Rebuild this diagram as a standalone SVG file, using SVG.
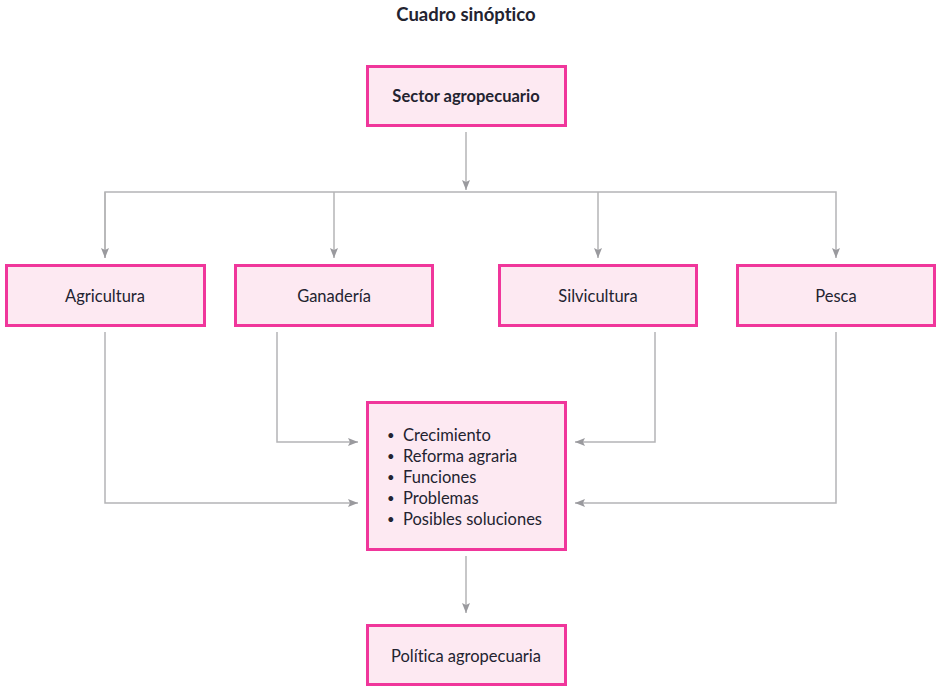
<svg xmlns="http://www.w3.org/2000/svg" width="941" height="695" viewBox="0 0 941 695">
<style>
.box{fill:#fde9f2;stroke:#f0369b;stroke-width:3}
.t{font-family:Lato,"Liberation Sans",sans-serif;font-size:16.5px;fill:#232330;text-anchor:middle;font-variant-ligatures:none}
.l{font-family:Lato,"Liberation Sans",sans-serif;font-size:16.5px;fill:#232330;font-variant-ligatures:none}
.b{font-size:13px}
.c{fill:none;stroke:#b4b4b6;stroke-width:1.5}
</style>
<defs>
<marker id="ah" markerWidth="10" markerHeight="8" refX="10" refY="4" orient="auto" markerUnits="userSpaceOnUse">
<path d="M0,0 L10,4 L0,8 L2,4 Z" fill="#9a9a9e"/>
</marker>
</defs>
<text x="466" y="21" class="t" style="font-weight:bold;font-size:18.5px">Cuadro sinóptico</text>
<g id="connectors">
<line class="c" x1="466" y1="132" x2="466" y2="190" marker-end="url(#ah)"/>
<polyline class="c" points="105,258 105,192 836,192 836,258" marker-end="url(#ah)"/>
<line class="c" x1="105" y1="192" x2="105" y2="258" marker-end="url(#ah)"/>
<line class="c" x1="334" y1="192" x2="334" y2="258" marker-end="url(#ah)"/>
<line class="c" x1="598" y1="192" x2="598" y2="258" marker-end="url(#ah)"/>
<polyline class="c" points="105,332 105,503 358,503" marker-end="url(#ah)"/>
<polyline class="c" points="277,332 277,442 358,442" marker-end="url(#ah)"/>
<polyline class="c" points="655,332 655,442 575,442" marker-end="url(#ah)"/>
<polyline class="c" points="836,332 836,503 575,503" marker-end="url(#ah)"/>
<line class="c" x1="466" y1="556" x2="466" y2="613" marker-end="url(#ah)"/>
</g>
<g id="sector"><rect class="box" x="367.5" y="66.5" width="198" height="59"/><text x="466" y="102" class="t" style="font-weight:bold">Sector agropecuario</text></g>
<g id="agricultura"><rect class="box" x="6.5" y="265.5" width="198" height="60"/><text x="105" y="302" class="t">Agricultura</text></g>
<g id="ganaderia"><rect class="box" x="235.5" y="265.5" width="197" height="60"/><text x="334" y="302" class="t">Ganadería</text></g>
<g id="silvicultura"><rect class="box" x="499.5" y="265.5" width="197" height="60"/><text x="598" y="302" class="t">Silvicultura</text></g>
<g id="pesca"><rect class="box" x="737.5" y="265.5" width="197" height="60"/><text x="836" y="302" class="t">Pesca</text></g>
<g id="temas"><rect class="box" x="367.5" y="402.5" width="198" height="147"/>
<text class="l"><tspan x="387" y="440" class="b">•</tspan><tspan x="403" y="441">Crecimiento</tspan>
<tspan x="387" y="461" class="b">•</tspan><tspan x="403" y="462">Reforma agraria</tspan>
<tspan x="387" y="482" class="b">•</tspan><tspan x="403" y="483">Funciones</tspan>
<tspan x="387" y="503" class="b">•</tspan><tspan x="403" y="504">Problemas</tspan>
<tspan x="387" y="524" class="b">•</tspan><tspan x="403" y="525">Posibles soluciones</tspan></text></g>
<g id="politica"><rect class="box" x="367.5" y="625.5" width="198" height="59"/><text x="466" y="662" class="t">Política agropecuaria</text></g>
</svg>
